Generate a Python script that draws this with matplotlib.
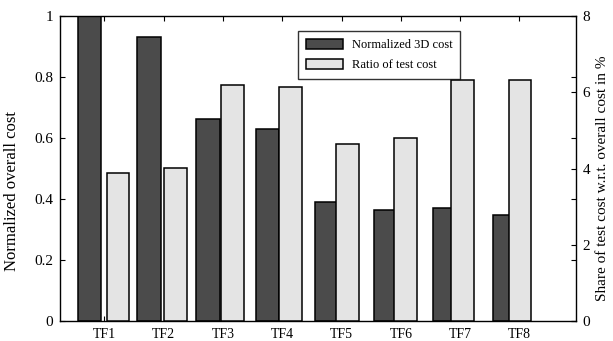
import matplotlib
matplotlib.use("Agg")
import matplotlib.pyplot as plt
import numpy as np

categories = ["TF1", "TF2", "TF3", "TF4", "TF5", "TF6", "TF7", "TF8"]
norm_3d_cost = [1.0, 0.93, 0.662, 0.630, 0.391, 0.365, 0.370, 0.348]
test_cost_ratio = [3.88, 4.01, 6.19, 6.14, 4.65, 4.79, 6.32, 6.31]
left_ticks = [0, 0.2, 0.4, 0.6, 0.8, 1.0]
left_ticklabels = ["0", "0.2", "0.4", "0.6", "0.8", "1"]
right_ticks = [0, 2, 4, 6, 8]

plt.rcParams['font.family'] = ['Liberation Serif', 'DejaVu Serif']

fig = plt.figure(figsize=(6.13, 3.41), dpi=100)
pos = [60/613, 20/341, 515.7/613, 305/341]

dark = "#4b4b4b"
light = "#e4e4e4"

ax = fig.add_axes(pos)
x = np.arange(1, len(categories) + 1)
b1 = ax.bar(x - 0.25, norm_3d_cost, width=0.4, color=dark, edgecolor="black", linewidth=1.1, zorder=2)
ax.set_xlim(0.25, 8.95)
ax.set_ylim(0, 1)
ax.set_xticks(x)
ax.set_xticklabels(categories, fontsize=10)
ax.set_yticks(left_ticks)
ax.set_yticklabels(left_ticklabels, fontsize=11)
ax.tick_params(direction="in", length=3.5, width=0.8, top=True, right=True, labelright=False, pad=5)
ax.tick_params(axis="x", pad=5)
ax.set_ylabel("Normalized overall cost", fontsize=12)
ax.yaxis.set_label_coords((20 - 60) / 515.7, 0.426)
for s in ax.spines.values():
    s.set_linewidth(1.0)

ax2 = fig.add_axes(pos, frameon=False)
b2 = ax2.bar(x + 0.25, test_cost_ratio, width=0.4, color=light, edgecolor="black", linewidth=1.1, zorder=2)
ax2.set_xlim(0.24, 9.22)
ax2.set_ylim(0, 8)
ax2.set_xticks([])
ax2.yaxis.tick_right()
ax2.yaxis.set_label_position("right")
ax2.set_yticks(right_ticks)
ax2.set_yticklabels([str(t) for t in right_ticks], fontsize=11)
ax2.tick_params(direction="in", length=3.5, width=0.8, pad=5, left=False)
ax2.set_ylabel("Share of test cost w.r.t. overall cost in %", fontsize=11)
ax2.yaxis.set_label_coords((596 - 60) / 515.7, 0.469)

leg = fig.legend([b1, b2], ["Normalized 3D cost", "Ratio of test cost"],
                 loc="upper left", bbox_to_anchor=(298/613, 1 - 31/341),
                 fontsize=9, frameon=True, fancybox=False, edgecolor="black",
                 handlelength=3.0, handleheight=0.95, labelspacing=0.6,
                 borderpad=0.6, handletextpad=0.7, borderaxespad=0)
leg.get_frame().set_linewidth(1.0)

fig.savefig("out.png", dpi=100)
